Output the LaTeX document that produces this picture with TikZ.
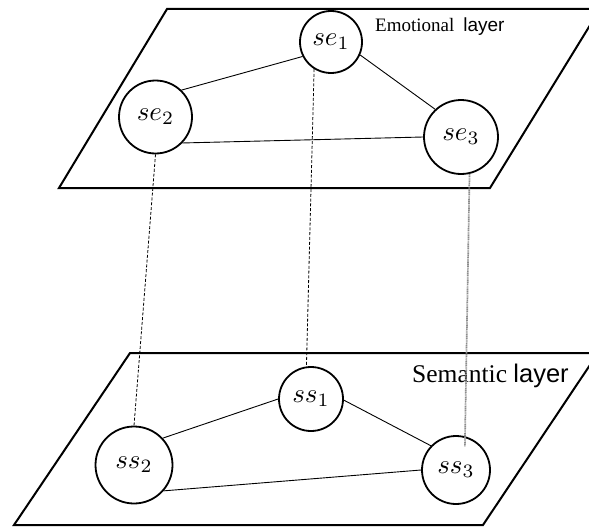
\documentclass[tikz,border=0pt]{standalone}
\usepackage{graphicx}
\usepackage{fontspec}
\newfontfamily\romanface{Liberation Serif}
\newfontfamily\plainsans{Liberation Sans}
% math labels of the agents, enlarged from the 10pt math fonts
\newcommand{\agentlabel}[1]{\scalebox{2.7}{$#1$}}
\begin{document}
\begin{tikzpicture}[x=1pt,y=-1pt,
  plane/.style={line width=2pt, line join=miter},
  agent/.style={circle, draw, line width=1.8pt, inner sep=0pt},
  link/.style={line width=0.9pt},
  cross/.style={line width=0.8pt, dash pattern=on 3pt off 1.8pt},
  crossgray/.style={line width=1.7pt, black!45, dash pattern=on 1.2pt off 0.6pt}]
\useasboundingbox (0,0) rectangle (589,527);
\clip (0,0) rectangle (589,527);

% the two layer planes
\draw[plane] (167,9) -- (600,9) -- (490,188) -- (59,188) -- cycle;
\draw[plane] (130,353) -- (598,353) -- (483,525) -- (14,525) -- cycle;

% layer titles
\node[anchor=base west, inner sep=0pt, font=\romanface\fontsize{19}{22}\selectfont]
  (emo) at (375,32) {Emotional\hspace{9pt}{\plainsans layer}};
\node[anchor=base west, inner sep=0pt, font=\romanface\fontsize{25.5}{28}\selectfont]
  (sem) at (412,382) {Semantic {\plainsans layer}};

% emotional layer nodes
\node[agent, minimum size=62pt] (se1) at (331,42) {\agentlabel{se_1}};
\node[agent, minimum size=73pt] (se2) at (155.5,117) {\agentlabel{se_2}};
\node[agent, minimum size=74pt] (se3) at (461,137) {\agentlabel{se_3}};

% semantic layer nodes
\node[agent, minimum size=64pt] (ss1) at (311,399) {\agentlabel{ss_1}};
\node[agent, minimum size=77pt] (ss2) at (134,465) {\agentlabel{ss_2}};
\node[agent, minimum size=68pt] (ss3) at (456,470) {\agentlabel{ss_3}};

% links inside each layer
\draw[link] (se2.46) -- (se1.-153);
\draw[link] (se1.-24) -- (se3.133);
\draw[link] (se2.-44) -- (se3.180);
\draw[link] (ss2.43) -- (ss1.180);
\draw[link] (ss1.-2) -- (ss3.136);
\draw[link] (ss2.-41) -- (ss3.180);

% links between the layers
\draw[cross] (se2.-90) -- (ss2.90);
\draw[cross] (se1.-122) -- (ss1.98);
\draw[crossgray, shorten >=-10pt] (se3.-77) -- (ss3.75);
\end{tikzpicture}
\end{document}
